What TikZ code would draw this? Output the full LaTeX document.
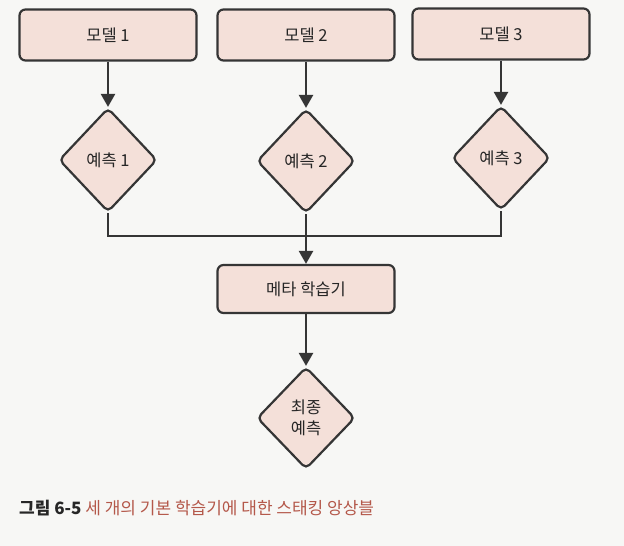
\documentclass[tikz,border=0pt]{standalone}
\usepackage{fontspec}
\setmainfont{Noto Sans CJK KR}
\usetikzlibrary{shapes.geometric,arrows.meta}
\definecolor{boxfill}{HTML}{F4E0D9}
\definecolor{edge}{HTML}{353535}
\definecolor{capred}{HTML}{B4584A}
\definecolor{bg}{HTML}{F7F7F5}
\definecolor{txt}{HTML}{262626}
\begin{document}
\begin{tikzpicture}[x=1pt,y=-1pt,
  box/.style={draw=edge, fill=boxfill, line width=2.2pt, rounded corners=6pt,
    minimum width=177pt, minimum height=51pt, inner sep=0pt,
    font=\fontsize{16.5}{19}\selectfont, text=txt},
  dia/.style={draw=edge, fill=boxfill, line width=2.2pt, diamond, rounded corners=5pt,
    minimum width=98pt, minimum height=104pt, inner sep=0pt, align=center,
    font=\fontsize{16.5}{21}\selectfont, text=txt},
  link/.style={draw=edge, line width=2.4pt},
  arr/.style={link, -{Triangle[width=14pt,length=13pt]}}
]
\fill[bg] (0,0) rectangle (624,546);
\useasboundingbox (0,0) rectangle (624,546);

\node[box] (m1) at (108,35) {모델 1};
\node[box] (m2) at (306,35) {모델 2};
\node[box] (m3) at (501,34) {모델 3};

\node[dia] (p1) at (108,160) {예측 1};
\node[dia] (p2) at (306,161) {예측 2};
\node[dia] (p3) at (501,158) {예측 3};

\node[box, minimum height=48pt] (meta) at (306,289) {메타 학습기};
\node[dia, minimum height=102pt] (fin) at (306,418) {최종\\예측};

\coordinate (j) at (306,236);

\draw[arr] (m1) -- (p1);
\draw[arr] (m2) -- (p2);
\draw[arr] (m3) -- (p3);
\draw[link] (p1.south) |- (j) -| (p3.south);
\draw[arr] (p2.south) -- (meta.north);
\draw[arr] (meta) -- (fin);

\node[anchor=west, inner sep=0pt, font=\fontsize{17}{19}\selectfont, text=txt] (cap) at (19,508)
  {\textbf{그림 6-5} \textcolor{capred}{세 개의 기본 학습기에 대한 스태킹 앙상블}};
\end{tikzpicture}
\end{document}
